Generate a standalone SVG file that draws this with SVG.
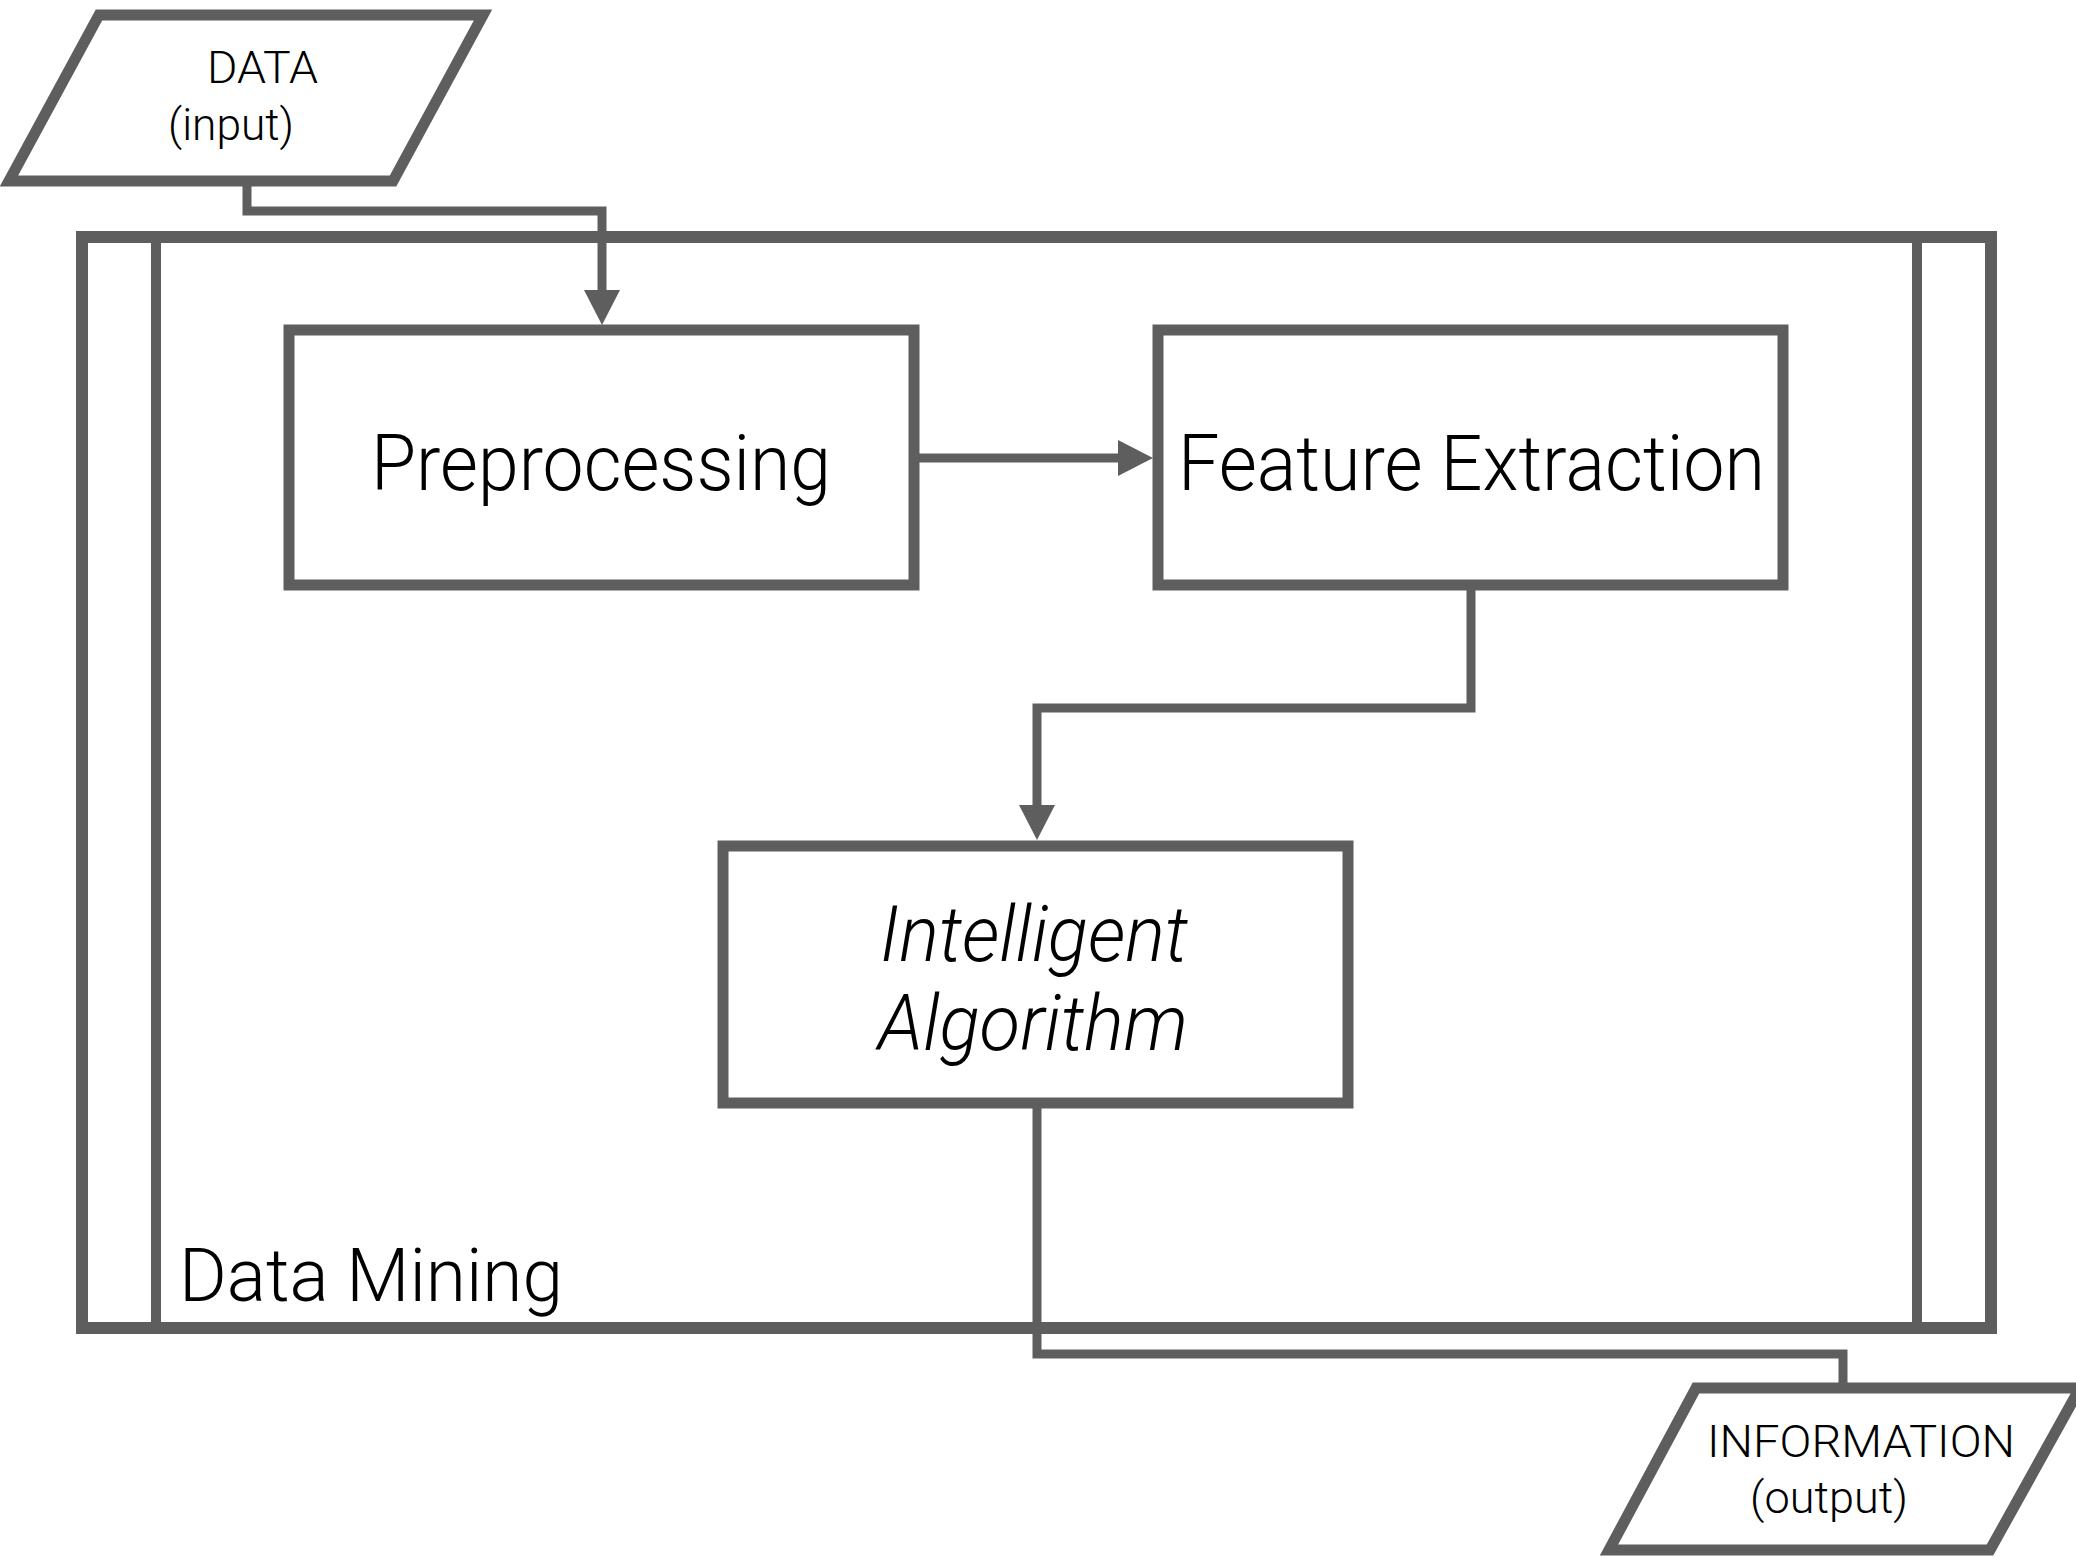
<svg xmlns="http://www.w3.org/2000/svg" width="2076" height="1559" viewBox="0 0 2076 1559">
<defs>
<style>
.box{fill:none;stroke:#5e5e5e;stroke-width:11;stroke-linejoin:miter}
.outer{fill:none;stroke:#5e5e5e;stroke-width:12}
.inner{fill:none;stroke:#5e5e5e;stroke-width:10}
.conn{fill:none;stroke:#5e5e5e;stroke-width:9;stroke-linejoin:miter}
.t{font-family:Roboto,"Liberation Sans",Arial,sans-serif;font-weight:300;fill:#000}
.big{font-size:78px}
.small{font-size:45px}
.it{font-style:italic}
</style>
<marker id="arr" viewBox="0 0 35 36" refX="0" refY="18" markerWidth="35" markerHeight="36" markerUnits="userSpaceOnUse" orient="auto">
<path d="M0,0 L35,18 L0,36 Z" fill="#5e5e5e"/>
</marker>
</defs>
<rect width="2076" height="1559" fill="#fff"/>
<g id="data-mining">
<rect class="outer" x="82" y="237" width="1909" height="1091"/>
<line class="inner" x1="156" y1="237" x2="156" y2="1328"/>
<line class="inner" x1="1917" y1="237" x2="1917" y2="1328"/>
<text class="t" x="179" y="1301" font-size="74" textLength="384" lengthAdjust="spacingAndGlyphs">Data Mining</text>
</g>
<g id="data-input">
<polygon class="box" points="99,15 483,15 393,181 9,181"/>
<text class="t small" x="207" y="83" textLength="111" lengthAdjust="spacingAndGlyphs">DATA</text>
<text class="t small" x="168" y="140" textLength="126" lengthAdjust="spacingAndGlyphs">(input)</text>
</g>
<g id="preprocessing">
<rect class="box" x="289" y="330" width="625" height="255" fill="#fff"/>
<text class="t big" x="371" y="490" textLength="460" lengthAdjust="spacingAndGlyphs">Preprocessing</text>
</g>
<g id="feature-extraction">
<rect class="box" x="1158" y="330" width="625" height="255"/>
<text class="t big" x="1178" y="490" textLength="587" lengthAdjust="spacingAndGlyphs">Feature Extraction</text>
</g>
<g id="intelligent-algorithm">
<rect class="box" x="723" y="846" width="625" height="257"/>
<text class="t big it" x="880" y="961" textLength="308" lengthAdjust="spacingAndGlyphs">Intelligent</text>
<text class="t big it" x="878" y="1050" textLength="310" lengthAdjust="spacingAndGlyphs">Algorithm</text>
</g>
<g id="information-output">
<polygon class="box" points="1696,1388 2080,1388 1990,1550 1609,1550"/>
<text class="t small" x="1707" y="1457" textLength="308" lengthAdjust="spacingAndGlyphs">INFORMATION</text>
<text class="t small" x="1750" y="1513" textLength="158" lengthAdjust="spacingAndGlyphs">(output)</text>
</g>
<g id="connectors">
<path class="conn" d="M247,186 V211 H602 V290" marker-end="url(#arr)"/>
<path class="conn" d="M919,458 H1118" marker-end="url(#arr)"/>
<path class="conn" d="M1471,590 V708 H1037 V805" marker-end="url(#arr)"/>
<path class="conn" d="M1037,1108 V1354 H1843 V1383"/>
</g>
</svg>
